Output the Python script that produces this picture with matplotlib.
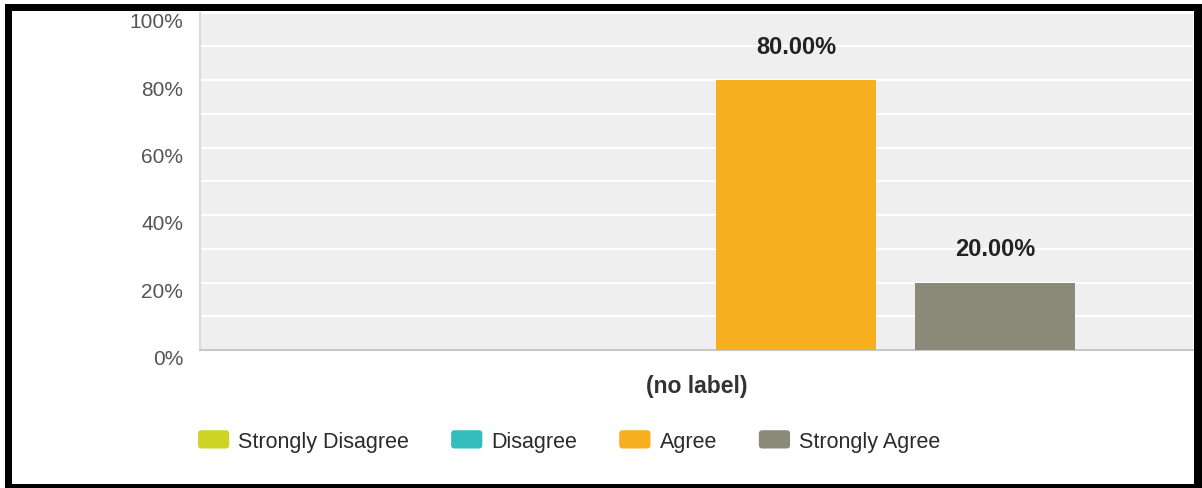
import matplotlib
matplotlib.use("Agg")
import matplotlib.pyplot as plt
from matplotlib.patches import Rectangle, FancyBboxPatch, Patch
from matplotlib.legend_handler import HandlerPatch
from matplotlib.transforms import ScaledTranslation
from matplotlib.ticker import MultipleLocator, FuncFormatter

plt.rcParams["font.family"] = ["Liberation Sans", "DejaVu Sans"]

# survey responses (percent of respondents)
categories = ["Strongly Disagree", "Disagree", "Agree", "Strongly Agree"]
percents = [0.0, 0.0, 80.0, 20.0]
colors = ["#cdd424", "#33bdbd", "#f7ae1f", "#8a8a78"]
group_label = "(no label)"

W, H = 1202, 489
fig = plt.figure(figsize=(W / 100, H / 100), dpi=100)
fig.patch.set_facecolor("white")

# plot area in pixel coords
left, right, top, bottom = 200, 1193, 13.5, 351
ax = fig.add_axes([left / W, 1 - bottom / H, (right - left) / W, (bottom - top) / H])
ax.set_facecolor("#efefef")

xpos = list(range(len(categories)))
ax.bar(xpos, percents, width=0.8, color=colors, zorder=3)

for x, v in zip(xpos, percents):
    if v > 0:
        ax.annotate(f"{v:.2f}%", (x, v), xytext=(0, 34), textcoords="offset pixels",
                    ha="center", va="center", fontsize=17, fontweight="bold",
                    color="#222222", zorder=4)

ax.set_xlim(-0.995, 3.995)
ax.set_ylim(0, 100)
ax.set_xticks([sum(xpos) / len(xpos)])
ax.set_xticklabels([group_label], fontsize=16.5, fontweight="bold", color="#333333")
ax.yaxis.set_major_locator(MultipleLocator(20))
ax.yaxis.set_minor_locator(MultipleLocator(10))
ax.yaxis.set_major_formatter(FuncFormatter(lambda v, p: f"{v:.0f}%"))
ax.grid(True, which="both", axis="y", color="white", linewidth=1.5, zorder=0)
ax.set_axisbelow(True)
ax.tick_params(axis="y", which="both", length=0, pad=12, labelsize=15, labelcolor="#555555")
ax.tick_params(axis="x", length=0, pad=17)

# percent labels sit a little below their gridline
shift = ScaledTranslation(0, -7 / 100, fig.dpi_scale_trans)
for lab in ax.get_yticklabels():
    lab.set_transform(lab.get_transform() + shift)

for s in ("top", "right"):
    ax.spines[s].set_visible(False)
ax.spines["left"].set_color("#d9d9d9")
ax.spines["left"].set_linewidth(1.5)
ax.spines["bottom"].set_color("#c8c8c8")
ax.spines["bottom"].set_linewidth(1.5)


def rounded_box(legend, orig_handle, xdescent, ydescent, width, height, fontsize):
    return FancyBboxPatch((-xdescent, -ydescent), width, height,
                          boxstyle="round,pad=0,rounding_size=2.5")


handles = [Patch(facecolor=c, edgecolor="none") for c in colors]
fig.legend(handles, categories, loc="center left", bbox_to_anchor=(198 / W, 1 - 442 / H),
           ncol=4, frameon=False, fontsize=15.5, labelcolor="#2b2b2b",
           borderpad=0, borderaxespad=0, handlelength=1.45, handleheight=0.93,
           handletextpad=0.42, columnspacing=1.95,
           handler_map={Patch: HandlerPatch(patch_func=rounded_box)})

# black frame around the whole chart
for x0, y0, x1, y1 in [(5, 5, 1202, 12), (5, 5, 12, 489), (1194, 5, 1202, 489), (5, 485, 1202, 489)]:
    fig.add_artist(Rectangle((x0 / W, 1 - y1 / H), (x1 - x0) / W, (y1 - y0) / H,
                             transform=fig.transFigure, facecolor="black",
                             edgecolor="none", zorder=10))

fig.savefig("out.png", dpi=100)
